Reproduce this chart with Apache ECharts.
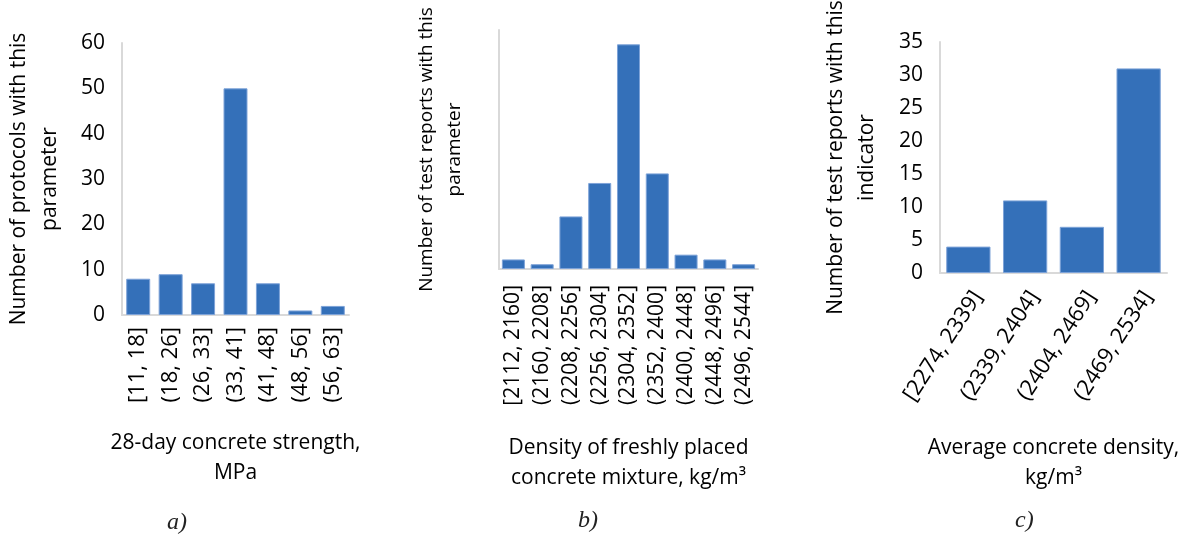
<!DOCTYPE html>
<html>
<head>
<meta charset="utf-8">
<script src="https://cdn.jsdelivr.net/npm/echarts@6/dist/echarts.min.js"></script>
<style>
  html,body{margin:0;padding:0;background:#fff;}
  #hist{width:1187px;height:540px;}
</style>
</head>
<body>
<div id="hist"></div>
<script>
// a) 28-day strength
var strengthBins = ['[11, 18]','(18, 26]','(26, 33]','(33, 41]','(41, 48]','(48, 56]','(56, 63]'];
var strengthCounts = [8, 9, 7, 50, 7, 1, 2];
// b) fresh mix density
var freshBins = ['[2112, 2160]','(2160, 2208]','(2208, 2256]','(2256, 2304]','(2304, 2352]','(2352, 2400]','(2400, 2448]','(2448, 2496]','(2496, 2544]'];
var freshCounts = [2, 1, 11, 18, 47, 20, 3, 2, 1];
// c) average density
var avgBins = ['[2274, 2339]','(2339, 2404]','(2404, 2469]','(2469, 2534]'];
var avgCounts = [4, 11, 7, 31];

var font = '"Open Sans", sans-serif';
var barBlue = '#3470b9';
var axisGrey = '#d9d9d9';

function xAx(idx, cats, rot, margin, lblSize, name, gap){
  var lbl = {rotate:rot, margin:margin, color:'#000', fontFamily:font, fontSize:lblSize, interval:0};
  if(rot !== 90) lbl.verticalAlign = 'top';
  return {
    type:'category', gridIndex:idx, data:cats,
    axisLine:{lineStyle:{color:axisGrey,width:2}},
    axisTick:{show:false},
    axisLabel:lbl,
    name:name, nameLocation:'middle', nameGap:gap,
    nameTextStyle:{color:'#000', fontFamily:font, fontSize:21, lineHeight:30, verticalAlign:'top'}
  };
}
function yAx(idx, max, step, showLabels, name, gap, nameSize, lh){
  return {
    type:'value', gridIndex:idx, min:0, max:max, interval:step,
    axisLine:{show:true, lineStyle:{color:axisGrey,width:2}},
    axisTick:{show:false},
    splitLine:{show:false},
    axisLabel:{show:showLabels, color:'#000', fontFamily:font, fontSize:21, margin:17},
    name:name, nameLocation:'middle', nameRotate:90, nameGap:gap,
    nameTextStyle:{color:'#000', fontFamily:font, fontSize:nameSize, lineHeight:lh}
  };
}
function bars(idx, vals, gapPct){
  return {
    type:'bar', xAxisIndex:idx, yAxisIndex:idx, data:vals,
    barCategoryGap:gapPct,
    itemStyle:{color:barBlue, borderColor:'#7ea3d8', borderWidth:1}
  };
}

var chart = echarts.init(document.getElementById('hist'));
var option = {
  animation:false,
  backgroundColor:'#fff',
  grid:[
    {left:122, top:43, width:227, height:272, outerBoundsMode:'none'},
    {left:499, top:30, width:259, height:239, outerBoundsMode:'none'},
    {left:940, top:42, width:227, height:231, outerBoundsMode:'none'}
  ],
  xAxis:[
    xAx(0, strengthBins, 90, 12, 22, '28-day concrete strength,\nMPa', 113),
    xAx(1, freshBins, 90, 16, 21, 'Density of freshly placed\nconcrete mixture, kg/m³', 164),
    xAx(2, avgBins, 57, 14, 22, 'Average concrete density,\nkg/m³', 160)
  ],
  yAxis:[
    yAx(0, 60, 10, true, 'Number of protocols with this\nparameter', 56, 21, 31),
    yAx(1, 50, 10, false, 'Number of test reports with this\nparameter', 30, 19, 28),
    yAx(2, 35, 5, true, 'Number of test reports with this\nindicator', 57, 21, 31)
  ],
  series:[
    bars(0, strengthCounts, '26%'),
    bars(1, freshCounts, '20%'),
    bars(2, avgCounts, '22%')
  ],
  graphic:[
    {type:'text', left:167, top:511, style:{text:'a)', font:'italic 24px "Liberation Serif", serif', fill:'#222'}},
    {type:'text', left:578, top:509, style:{text:'b)', font:'italic 24px "Liberation Serif", serif', fill:'#222'}},
    {type:'text', left:1015, top:509, style:{text:'c)', font:'italic 24px "Liberation Serif", serif', fill:'#222'}}
  ]
};
chart.setOption(option);
</script>
</body>
</html>
